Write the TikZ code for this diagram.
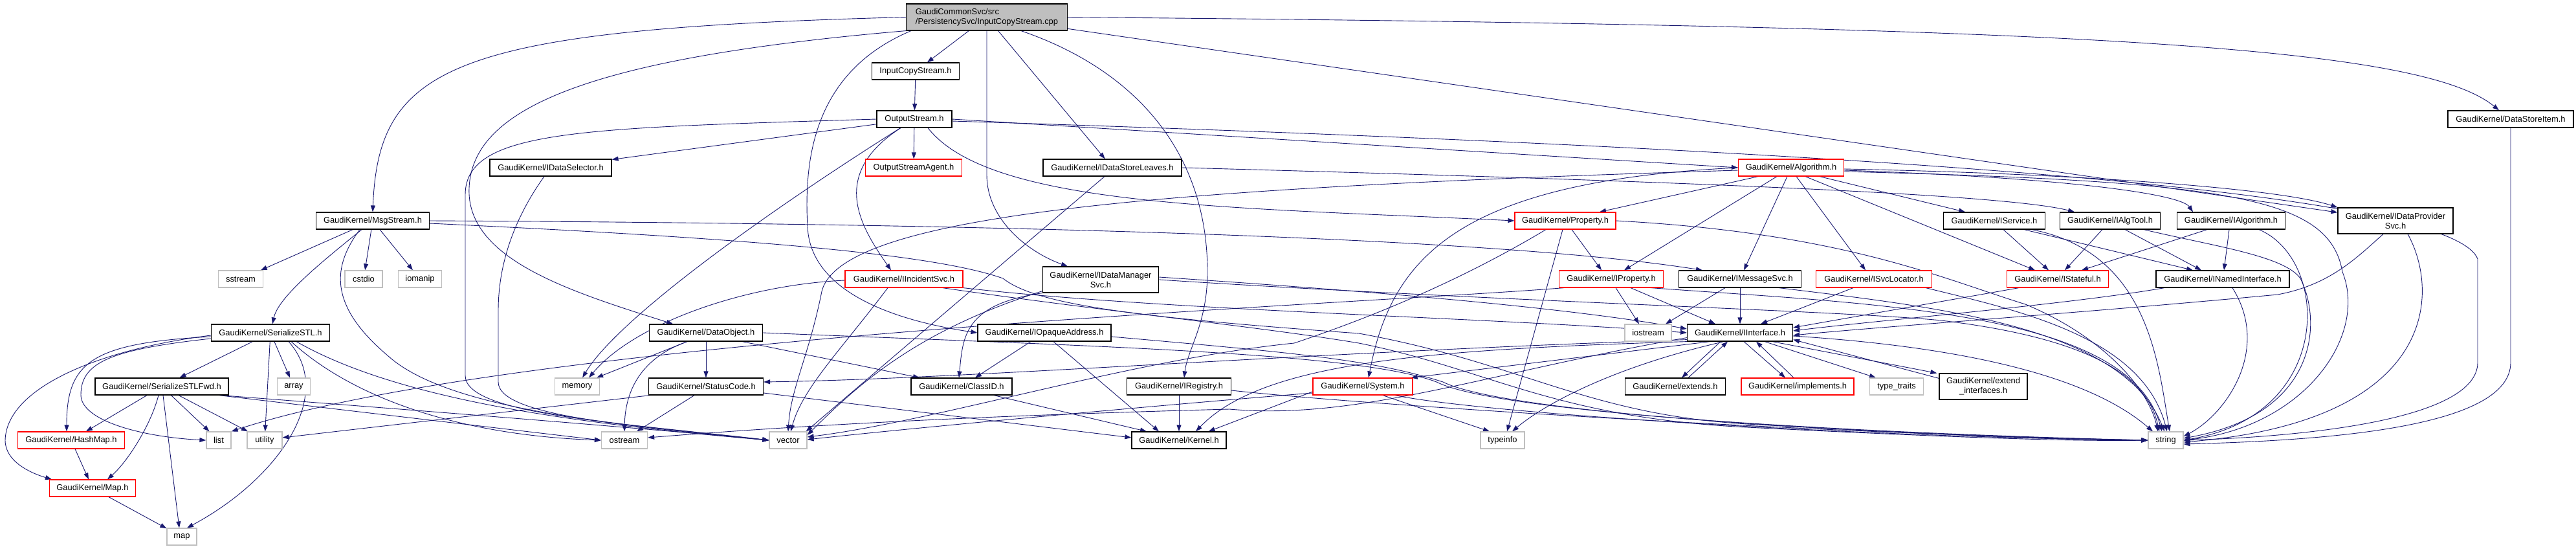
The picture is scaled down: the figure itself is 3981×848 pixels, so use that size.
\documentclass[tikz,border=0pt]{standalone}
\usepackage{fontspec}
\setmainfont{Liberation Sans}
\usetikzlibrary{arrows.meta}
\definecolor{edgec}{HTML}{191970}
\definecolor{grayb}{HTML}{BFBFBF}
\definecolor{redb}{HTML}{FF0000}
\newcommand\dxfont{\fontsize{12.9}{15}\selectfont}
\pgfdeclarelayer{edges}
\pgfsetlayers{edges,main}
\tikzset{
  base/.style={rectangle, inner sep=0pt, minimum height=26pt, font=\dxfont, fill=white},
  nb/.style={base, draw=black, line width=1.2pt},
  nr/.style={base, draw=redb, line width=1.2pt},
  ng/.style={base, draw=grayb, line width=1.2pt},
  edg/.style={draw=edgec, line width=0.9pt, -{Triangle[length=10pt,width=7pt]}},
}
\begin{document}
\begin{tikzpicture}[x=1pt,y=1pt]
\useasboundingbox (0,0) rectangle (3981,-848);
% ---------- nodes ----------
\node[nb, fill=grayb, minimum width=249pt, minimum height=41pt, align=left] (top) at (1525,-26.5) {GaudiCommonSvc/src\\/PersistencySvc/InputCopyStream.cpp};
\node[nb, minimum width=135pt] (ics) at (1415,-110) {InputCopyStream.h};
\node[nb, minimum width=116pt] (os) at (1413,-184) {OutputStream.h};
\node[nr, minimum width=149pt] (osa) at (1412,-259) {OutputStreamAgent.h};
\node[nb, minimum width=188pt] (ids) at (851,-259) {GaudiKernel/IDataSelector.h};
\node[nb, minimum width=214pt] (idsl) at (1719,-259) {GaudiKernel/IDataStoreLeaves.h};
\node[nr, minimum width=163pt] (alg) at (2768,-259) {GaudiKernel/Algorithm.h};
\node[nb, minimum width=194pt] (dsi) at (3880,-184) {GaudiKernel/DataStoreItem.h};
\node[nb, minimum width=175pt] (msg) at (576,-341) {GaudiKernel/MsgStream.h};
\node[nr, minimum width=156pt] (prop) at (2419,-341) {GaudiKernel/Property.h};
\node[nb, minimum width=157pt] (isvc) at (3082,-341) {GaudiKernel/IService.h};
\node[nb, minimum width=155pt] (ialgt) at (3261,-341) {GaudiKernel/IAlgTool.h};
\node[nb, minimum width=167pt] (ialg) at (3448,-341) {GaudiKernel/IAlgorithm.h};
\node[nb, minimum width=178pt, minimum height=40pt, align=center] (idp) at (3702,-341) {GaudiKernel/IDataProvider\\Svc.h};
\node[ng, minimum width=69pt] (sstream) at (372,-431) {sstream};
\node[ng, minimum width=58pt] (cstdio) at (562,-431) {cstdio};
\node[ng, minimum width=67pt] (iomanip) at (649,-431) {iomanip};
\node[nr, minimum width=182pt] (iinc) at (1397,-431) {GaudiKernel/IIncidentSvc.h};
\node[nb, minimum width=179pt, minimum height=40pt, align=center] (idm) at (1701,-432) {GaudiKernel/IDataManager\\Svc.h};
\node[nr, minimum width=161pt] (iprop) at (2490,-431) {GaudiKernel/IProperty.h};
\node[nb, minimum width=189pt] (imsg) at (2689,-431) {GaudiKernel/IMessageSvc.h};
\node[nr, minimum width=179pt] (isl) at (2896,-431) {GaudiKernel/ISvcLocator.h};
\node[nr, minimum width=157pt] (ista) at (3180,-431) {GaudiKernel/IStateful.h};
\node[nb, minimum width=206pt] (inam) at (3435,-431) {GaudiKernel/INamedInterface.h};
\node[nb, minimum width=183pt] (sstl) at (418,-514) {GaudiKernel/SerializeSTL.h};
\node[nb, minimum width=175pt] (dobj) at (1091,-514) {GaudiKernel/DataObject.h};
\node[nb, minimum width=206pt] (iopa) at (1614,-514) {GaudiKernel/IOpaqueAddress.h};
\node[ng, minimum width=72pt] (iostr) at (2547,-514) {iostream};
\node[nb, minimum width=163pt] (iint) at (2689,-514) {GaudiKernel/IInterface.h};
\node[nb, minimum width=206pt] (sfwd) at (250,-597) {GaudiKernel/SerializeSTLFwd.h};
\node[ng, minimum width=51pt] (array) at (454,-597) {array};
\node[ng, minimum width=69pt] (memory) at (892,-597) {memory};
\node[nb, minimum width=177pt] (sc) at (1091,-597) {GaudiKernel/StatusCode.h};
\node[nb, minimum width=156pt] (cid) at (1486,-597) {GaudiKernel/ClassID.h};
\node[nb, minimum width=161pt] (ireg) at (1822,-597) {GaudiKernel/IRegistry.h};
\node[nr, minimum width=154pt] (sys) at (2106,-597) {GaudiKernel/System.h};
\node[nb, minimum width=155pt] (ext) at (2589,-597) {GaudiKernel/extends.h};
\node[nr, minimum width=174pt] (impl) at (2778,-597) {GaudiKernel/implements.h};
\node[ng, minimum width=83pt] (tt) at (2931,-597) {type\_traits};
\node[nb, minimum width=136pt, minimum height=40pt, align=center] (exti) at (3065,-597) {GaudiKernel/extend\\\_interfaces.h};
\node[nr, minimum width=165pt] (hmap) at (110,-680) {GaudiKernel/HashMap.h};
\node[ng, minimum width=38pt] (list) at (338,-680) {list};
\node[ng, minimum width=54pt] (utility) at (409,-680) {utility};
\node[ng, minimum width=71pt] (ostream) at (965,-680) {ostream};
\node[ng, minimum width=58pt] (vector) at (1218,-680) {vector};
\node[nb, minimum width=146pt] (kernel) at (1822,-680) {GaudiKernel/Kernel.h};
\node[ng, minimum width=68pt] (typeinfo) at (2322,-680) {typeinfo};
\node[ng, minimum width=54pt] (string) at (3347,-680) {string};
\node[nr, minimum width=133pt] (mapg) at (143,-754) {GaudiKernel/Map.h};
\node[ng, minimum width=46pt] (mapstd) at (281,-829) {map};
% ---------- edges ----------
\begin{pgfonlayer}{edges}
% top
\draw[edg] (top) -- (ics);
\draw[edg] (top.west) .. controls (700,-45) and (585,-100) .. (msg.north);
\draw[edg] (top.south west) .. controls (900,-90) and (730,-170) .. (725,-290) .. controls (720,-400) and (880,-450) .. ([xshift=-51pt]dobj.north);
\draw[edg] ([xshift=8pt]top.south west) .. controls (1260,-110) and (1242,-240) .. (1248,-350) .. controls (1252,-450) and (1380,-495) .. (iopa.west);
\draw[edg] (top.south) -- (1525,-270) .. controls (1525,-340) and (1590,-390) .. ([xshift=-51pt]idm.north);
\draw[edg] (top) -- (idsl);
\draw[edg] ([xshift=53pt]top.south) .. controls (1760,-110) and (1866,-240) .. (1866,-420) .. controls (1866,-500) and (1835,-540) .. ([xshift=8pt]ireg.north);
\draw[edg] (top.east) .. controls (3200,-40) and (3740,-70) .. ([xshift=-18pt]dsi.north);
\draw[edg] (top) -- (idp);
% InputCopyStream / OutputStream
\draw[edg] (ics) -- (os);
\draw[edg] (os) -- (osa);
\draw[edg] (os) -- (ids);
\draw[edg] (os.west) .. controls (900,-198) and (720,-200) .. (719,-300) -- (719,-580) .. controls (719,-640) and (950,-652) .. (vector.west);
\draw[edg] (os) .. controls (1150,-350) and (950,-500) .. (memory);
\draw[edg] (os) .. controls (1280,-270) and (1330,-350) .. ([xshift=-20pt]iinc.north);
\draw[edg] ([xshift=21pt]os.south) .. controls (1530,-320) and (1900,-320) .. (prop.west);
\draw[edg] (os.east) -- (alg.west);
\draw[edg] ([yshift=-3pt]os.east) .. controls (3000,-235) and (3790,-300) .. (3829,-400) -- (3829,-560) .. controls (3829,-650) and (3550,-675) .. (string.east);
% MsgStream
\draw[edg] (msg) -- (sstream);
\draw[edg] (msg) -- (cstdio);
\draw[edg] (msg) -- (iomanip);
\draw[edg] (msg) .. controls (490,-410) and (430,-460) .. (sstl);
\draw[edg] ([xshift=-20pt]msg.south) .. controls (515,-410) and (505,-470) .. (600,-550) .. controls (700,-640) and (1000,-658) .. (vector.west);
\draw[edg] (msg.east) .. controls (1500,-345) and (2300,-365) .. ([xshift=-58pt]imsg.north);
\draw[edg] ([yshift=-4pt]msg.east) .. controls (1200,-370) and (1450,-395) .. (1550,-430) .. controls (1600,-470) and (1750,-490) .. (2100,-515) .. controls (2350,-560) and (2450,-640) .. (2700,-655) .. controls (3000,-672) and (3200,-680) .. (string.west);
% SerializeSTL
\draw[edg] (sstl) -- (sfwd);
\draw[edg] (sstl) -- (array);
\draw[edg] (sstl) -- (utility);
\draw[edg] ([yshift=-4pt]sstl.west) .. controls (150,-540) and (10,-600) .. (8,-680) .. controls (8,-712) and (45,-730) .. ([xshift=-63pt]mapg.north);
\draw[edg] ([yshift=-6pt]sstl.west) .. controls (140,-530) and (103,-560) .. ([xshift=-7pt]hmap.north);
\draw[edg] ([yshift=-9pt]sstl.west) .. controls (170,-540) and (125,-560) .. (125,-610) .. controls (125,-650) and (220,-675) .. (list.west);
\draw[edg] ([xshift=28pt]sstl.south) .. controls (520,-610) and (430,-740) .. ([xshift=8pt]mapstd.north);
\draw[edg] ([xshift=32pt]sstl.south) .. controls (540,-610) and (700,-672) .. (ostream.west);
\draw[edg] ([xshift=40pt]sstl.south) .. controls (620,-620) and (900,-655) .. (vector.west);
% SerializeSTLFwd
\draw[edg] (sfwd) -- (hmap);
\draw[edg] ([xshift=-5pt]sfwd.south) .. controls (232,-660) and (195,-715) .. ([xshift=23pt]mapg.north);
\draw[edg] ([xshift=2pt]sfwd.south) -- ([xshift=-4pt]mapstd.north);
\draw[edg] (sfwd) -- (list);
\draw[edg] (sfwd) -- (utility);
\draw[edg] ([xshift=-15pt]sfwd.south east) -- (ostream.west);
\draw[edg] ([xshift=-12pt]sfwd.south east) .. controls (700,-638) and (1000,-662) .. (vector.west);
\draw[edg] (hmap) -- (mapg);
\draw[edg] (mapg) -- (mapstd);
% IDataSelector
\draw[edg] ([xshift=-10pt]ids.south) .. controls (800,-330) and (770,-400) .. (770,-480) -- (770,-590) .. controls (770,-640) and (950,-656) .. (vector.west);
% DataObject
\draw[edg] (dobj) -- (sc);
\draw[edg] ([xshift=56pt]dobj.south) -- ([xshift=-65pt]cid.north);
\draw[edg] ([xshift=-29pt]dobj.south) -- ([xshift=-5pt]memory.north east);
\draw[edg] ([xshift=-29pt]dobj.south) .. controls (985,-555) and (966,-610) .. (ostream.north);
\draw[edg] (dobj.east) .. controls (1700,-535) and (2100,-545) .. (2220,-590) .. controls (2320,-640) and (2900,-670) .. (string.west);
% StatusCode
\draw[edg] ([yshift=-10pt]sc.east) -- ([yshift=4pt]kernel.west);
\draw[edg] ([xshift=-18pt]sc.south) -- ([xshift=-17pt]ostream.north east);
\draw[edg] ([xshift=3pt]sc.south west) -- ([yshift=4pt]utility.east);
% IOpaqueAddress
\draw[edg] ([xshift=-21pt]iopa.south) -- ([xshift=21pt]cid.north);
\draw[edg] ([xshift=14pt]iopa.south) -- ([xshift=-31pt]kernel.north);
\draw[edg] ([yshift=-6pt]iopa.east) .. controls (2000,-545) and (2120,-555) .. (2230,-590) .. controls (2330,-640) and (2900,-672) .. (string.west);
% ClassID, IRegistry
\draw[edg] ([xshift=50pt]cid.south) -- ([xshift=-50pt]kernel.north);
\draw[edg] (ireg) -- (kernel);
\draw[edg] ([yshift=-6pt]ireg.east) .. controls (2100,-625) and (2800,-670) .. (string.west);
% IDataManagerSvc
\draw[edg] (idm.south west) .. controls (1490,-470) and (1488,-520) .. ([xshift=-4pt]cid.north);
\draw[edg] ([yshift=3pt]idm.south west) .. controls (1420,-510) and (1330,-590) .. ([yshift=8pt]vector.east);
\draw[edg] ([yshift=4pt]idm.east) .. controls (2200,-455) and (2450,-480) .. ([yshift=6pt]iint.west);
\draw[edg] (idm.east) .. controls (2300,-465) and (2850,-480) .. (3000,-495) .. controls (3250,-525) and (3320,-590) .. ([xshift=-10pt]string.north);
% IDataStoreLeaves
\draw[edg] (idsl.east) .. controls (2600,-280) and (3100,-300) .. ([xshift=-55pt]ialgt.north);
\draw[edg] ([xshift=-12pt]idsl.south) -- ([xshift=-2pt]vector.north east);
% IIncidentSvc
\draw[edg] ([yshift=-2pt]iinc.west) .. controls (1150,-440) and (980,-500) .. ([xshift=-17pt]memory.north east);
\draw[edg] ([xshift=-25pt]iinc.south) .. controls (1300,-540) and (1240,-600) .. ([xshift=4pt]vector.north);
\draw[edg] (iinc.south east) .. controls (1800,-480) and (2300,-490) .. (iint.west);
\draw[edg] ([xshift=-32pt]iinc.south east) .. controls (1700,-480) and (1950,-505) .. (2100,-530) .. controls (2300,-570) and (2400,-645) .. (2700,-660) .. controls (3000,-675) and (3200,-682) .. (string.west);
% Algorithm
\draw[edg] ([xshift=-51pt]alg.south) -- ([xshift=53pt]prop.north);
\draw[edg] ([xshift=-22pt]alg.south) -- ([xshift=20pt]iprop.north);
\draw[edg] ([xshift=-6pt]alg.south) -- ([xshift=6pt]imsg.north);
\draw[edg] ([xshift=8pt]alg.south) -- ([xshift=-13pt]isl.north);
\draw[edg] ([xshift=22pt]alg.south) -- ([xshift=-35pt]ista.north);
\draw[edg] ([xshift=44pt]alg.south) -- ([xshift=-45pt]isvc.north);
\draw[edg] ([yshift=-4pt]alg.east) .. controls (3200,-275) and (3370,-300) .. ([xshift=-59pt]ialg.north);
\draw[edg] ([yshift=-2pt]alg.east) .. controls (3200,-268) and (3520,-290) .. (idp.north west);
\draw[edg] ([yshift=-6pt]alg.east) .. controls (3450,-280) and (3600,-305) .. (3620,-420) .. controls (3660,-520) and (3560,-660) .. (string.east);
\draw[edg] (alg.west) .. controls (2250,-280) and (2150,-400) .. ([xshift=9pt]sys.north);
\draw[edg] ([yshift=-4pt]alg.west) .. controls (1800,-290) and (1300,-330) .. (1270,-450) .. controls (1250,-550) and (1222,-600) .. (vector.north);
% Property
\draw[edg] ([xshift=10pt]prop.south) -- ([xshift=-15pt]iprop.north);
\draw[edg] ([xshift=-4pt]prop.south) -- ([xshift=7pt]typeinfo.north);
\draw[edg] ([xshift=-30pt]prop.south) .. controls (2280,-420) and (2150,-480) .. (2000,-530) .. controls (1750,-555) and (1450,-650) .. ([yshift=5pt]vector.east);
\draw[edg] (prop.east) .. controls (2850,-360) and (3000,-430) .. (3130,-470) .. controls (3250,-520) and (3320,-600) .. ([xshift=-12pt]string.north);
% IProperty
\draw[edg] ([xshift=7pt]iprop.south) -- ([xshift=-14pt]iostr.north);
\draw[edg] ([xshift=30pt]iprop.south) -- ([xshift=-38pt]iint.north);
\draw[edg] ([xshift=-20pt]iprop.south east) .. controls (2900,-470) and (3290,-480) .. ([xshift=-6pt]string.north);
\draw[edg] ([xshift=-73pt]iprop.south) .. controls (2100,-470) and (800,-520) .. (list.north east);
% IMessageSvc
\draw[edg] ([xshift=-23pt]imsg.south) -- ([xshift=27pt]iostr.north);
\draw[edg] (imsg) -- (iint);
\draw[edg] ([xshift=60pt]imsg.south) .. controls (3000,-475) and (3280,-505) .. ([xshift=-2pt]string.north);
% ISvcLocator
\draw[edg] ([xshift=-32pt]isl.south) -- ([xshift=32pt]iint.north);
\draw[edg] ([xshift=-10pt]isl.south east) .. controls (3120,-480) and (3310,-520) .. ([xshift=2pt]string.north);
% IStateful, INamedInterface
\draw[edg] ([xshift=-60pt]ista.south) -- ([yshift=8pt]iint.east);
\draw[edg] ([xshift=-90pt]inam.south) .. controls (3200,-470) and (2900,-495) .. ([yshift=3pt]iint.east);
\draw[edg] ([xshift=15pt]inam.south) .. controls (3510,-540) and (3440,-640) .. ([yshift=6pt]string.east);
% IService
\draw[edg] ([xshift=14pt]isvc.south) -- ([xshift=-14pt]ista.north);
\draw[edg] ([xshift=46pt]isvc.south) -- ([xshift=-46pt]inam.north);
\draw[edg] ([xshift=58pt]isvc.south) .. controls (3320,-390) and (3335,-560) .. ([xshift=6pt]string.north);
% IAlgTool
\draw[edg] ([xshift=-12pt]ialgt.south) -- ([xshift=11pt]ista.north);
\draw[edg] ([xshift=23pt]ialgt.south) -- ([xshift=-33pt]inam.north);
\draw[edg] ([xshift=52pt]ialgt.south) .. controls (3420,-380) and (3530,-395) .. (3555,-430) .. controls (3590,-500) and (3580,-640) .. ([yshift=3pt]string.east);
% IAlgorithm
\draw[edg] ([xshift=-37pt]ialg.south) -- ([xshift=37pt]ista.north);
\draw[edg] ([xshift=-3pt]ialg.south) -- ([xshift=2pt]inam.north);
\draw[edg] ([xshift=43pt]ialg.south) .. controls (3600,-400) and (3610,-640) .. (string.east);
% IDataProviderSvc
\draw[edg] ([xshift=-19pt]idp.south) .. controls (3640,-400) and (3600,-440) .. (3520,-455) .. controls (3200,-485) and (2900,-505) .. ([yshift=-4pt]iint.east);
\draw[edg] ([xshift=19pt]idp.south) .. controls (3770,-450) and (3770,-650) .. ([yshift=-3pt]string.east);
% DataStoreItem
\draw[edg] (dsi.south) -- (3880,-560) .. controls (3880,-660) and (3600,-680) .. ([yshift=-6pt]string.east);
% IInterface
\draw[edg] ([xshift=-46pt]iint.south) -- ([xshift=-3pt]sys.north east);
\draw[edg] (iint.south west) .. controls (2200,-540) and (1950,-560) .. ([xshift=26pt]kernel.north);
\draw[edg] ([yshift=3pt]iint.south west) .. controls (2000,-545) and (1500,-585) .. ([yshift=7pt]sc.east);
\draw[edg] ([yshift=6pt]iint.south west) .. controls (2300,-575) and (2100,-650) .. (1900,-632) .. controls (1600,-640) and (1300,-652) .. ([yshift=4pt]ostream.east);
\draw[edg] ([xshift=-25pt]iint.south) .. controls (2480,-570) and (2380,-630) .. ([xshift=15pt]typeinfo.north);
\draw[edg] ([xshift=-30pt]iint.south) -- ([xshift=10pt]ext.north);
\draw[edg] ([xshift=20pt]ext.north) -- ([xshift=-19pt]iint.south);
\draw[edg] ([xshift=6pt]iint.south) -- ([xshift=-19pt]impl.north);
\draw[edg] ([xshift=-6pt]impl.north) -- ([xshift=25pt]iint.south);
\draw[edg] ([xshift=38pt]iint.south) -- ([xshift=-32pt]tt.north);
\draw[edg] ([xshift=50pt]iint.south) -- ([xshift=-3pt]exti.north west);
\draw[edg] ([yshift=-8pt]exti.north west) -- ([yshift=3pt]iint.south east);
\draw[edg] ([yshift=-5pt]iint.east) .. controls (3100,-540) and (3250,-600) .. ([xshift=-20pt]string.north);
% System
\draw[edg] ([yshift=-8pt]sys.west) -- ([xshift=-28pt]kernel.north east);
\draw[edg] ([yshift=-10pt]sys.west) .. controls (1800,-625) and (1400,-662) .. ([yshift=1pt]vector.east);
\draw[edg] ([xshift=31pt]sys.south) -- ([xshift=-20pt]typeinfo.north);
\draw[edg] ([xshift=50pt]sys.south) .. controls (2300,-640) and (2900,-676) .. (string.west);
\end{pgfonlayer}
\end{tikzpicture}
\end{document}
